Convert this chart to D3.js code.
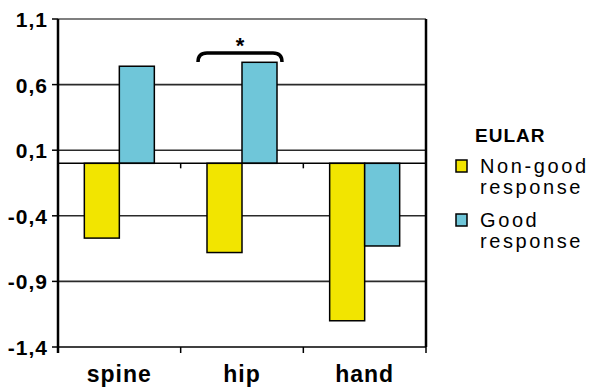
<!DOCTYPE html>
<html>
<head>
<meta charset="utf-8">
<script src="https://cdn.jsdelivr.net/npm/d3@7"></script>
<style>
  body { margin: 0; background: #fff; }
  text { font-family: "Liberation Sans", Arial, sans-serif; }
</style>
</head>
<body>
<div id="chart"></div>
<script>
// data
const categories = ["spine", "hip", "hand"];
const nonGood = [-0.57, -0.68, -1.2];
const good = [0.74, 0.77, -0.63];
const yTicks = [1.1, 0.6, 0.1, -0.4, -0.9, -1.4];
const seriesNames = ["Non-good\nresponse", "Good\nresponse"];
const colors = ["#f2e500", "#6fc6d9"];

const width = 600, height = 388;
const plot = { left: 58, right: 426, top: 19, bottom: 347 };

const svg = d3.select("#chart").append("svg")
  .attr("width", width)
  .attr("height", height);

const x = d3.scaleBand().domain(categories).range([plot.left, plot.right]);
const y = d3.scaleLinear().domain([-1.4, 1.1]).range([plot.bottom, plot.top]);
const barW = 35;

// grid lines
svg.selectAll(".grid")
  .data(yTicks.filter(d => d > -1.4 && d < 1.1))
  .enter().append("line")
  .attr("x1", plot.left).attr("x2", plot.right)
  .attr("y1", d => y(d)).attr("y2", d => y(d))
  .attr("stroke", "#2a2a2a")
  .attr("stroke-width", 1.6);

// top line
svg.append("line")
  .attr("x1", plot.left).attr("x2", plot.right)
  .attr("y1", y(1.1)).attr("y2", y(1.1))
  .attr("stroke", "#000").attr("stroke-width", 1.2);

// bars
const rows = categories.map((c, i) => ({ c, vals: [nonGood[i], good[i]] }));
rows.forEach(r => {
  r.vals.forEach((v, j) => {
    const cx = x(r.c) + x.bandwidth() / 2;
    svg.append("rect")
      .attr("x", cx - barW + j * barW)
      .attr("y", y(Math.max(0, v)))
      .attr("width", barW)
      .attr("height", Math.abs(y(v) - y(0)))
      .attr("fill", colors[j])
      .attr("stroke", "#000")
      .attr("stroke-width", 1.5);
  });
});

// zero line with ticks
svg.append("line")
  .attr("x1", plot.left).attr("x2", plot.right)
  .attr("y1", y(0)).attr("y2", y(0))
  .attr("stroke", "#000").attr("stroke-width", 1.5);
const bounds = [plot.left, ...categories.map(c => x(c) + x.bandwidth())];
svg.selectAll(".ztick")
  .data(bounds.slice(1, -1))
  .enter().append("line")
  .attr("x1", d => d).attr("x2", d => d)
  .attr("y1", y(0)).attr("y2", y(0) + 5)
  .attr("stroke", "#000").attr("stroke-width", 1.5);

// bottom axis
svg.append("line")
  .attr("x1", plot.left).attr("x2", plot.right)
  .attr("y1", plot.bottom).attr("y2", plot.bottom)
  .attr("stroke", "#000").attr("stroke-width", 1.5);
svg.selectAll(".btick")
  .data(bounds)
  .enter().append("line")
  .attr("x1", d => d).attr("x2", d => d)
  .attr("y1", plot.bottom).attr("y2", plot.bottom + 6)
  .attr("stroke", "#000").attr("stroke-width", 1.5);

svg.selectAll(".xlab")
  .data(categories)
  .enter().append("text")
  .attr("x", d => x(d) + x.bandwidth() / 2)
  .attr("y", 382)
  .attr("text-anchor", "middle")
  .attr("font-size", 23)
  .attr("font-weight", "bold")
  .attr("letter-spacing", 1)
  .text(d => d);

// left axis
svg.append("line")
  .attr("x1", plot.left).attr("x2", plot.left)
  .attr("y1", plot.top).attr("y2", plot.bottom + 6)
  .attr("stroke", "#000").attr("stroke-width", 2.5);
svg.selectAll(".ytick")
  .data(yTicks)
  .enter().append("line")
  .attr("x1", plot.left - 6).attr("x2", plot.left)
  .attr("y1", d => y(d)).attr("y2", d => y(d))
  .attr("stroke", "#000").attr("stroke-width", 1.5);
svg.selectAll(".ylab")
  .data(yTicks)
  .enter().append("text")
  .attr("x", 48)
  .attr("y", d => y(d) + 8)
  .attr("text-anchor", "end")
  .attr("font-size", 21)
  .attr("font-weight", "bold")
  .attr("letter-spacing", 1)
  .text(d => d3.format(".1f")(d).replace(".", ",").replace("−", "-"));

// right border
svg.append("line")
  .attr("x1", plot.right).attr("x2", plot.right)
  .attr("y1", plot.top).attr("y2", plot.bottom)
  .attr("stroke", "#000").attr("stroke-width", 2.5);

// significance bracket
const hc = x("hip") + x.bandwidth() / 2 - 2;
const bx0 = hc - 42, bx1 = hc + 42, by = 53;
svg.append("path")
  .attr("d", `M${bx0},${by + 9} Q${bx0},${by} ${bx0 + 9},${by} L${bx1 - 9},${by} Q${bx1},${by} ${bx1},${by + 9}`)
  .attr("fill", "none")
  .attr("stroke", "#000")
  .attr("stroke-width", 3.5);
svg.append("text")
  .attr("x", hc)
  .attr("y", 53)
  .attr("text-anchor", "middle")
  .attr("font-size", 22)
  .attr("font-weight", "bold")
  .text("*");

// legend
svg.append("text")
  .attr("x", 475).attr("y", 142)
  .attr("font-size", 19)
  .attr("font-weight", "bold")
  .attr("letter-spacing", 1)
  .text("EULAR");
const legY = [173, 227];
seriesNames.forEach((name, i) => {
  svg.append("rect")
    .attr("x", 456).attr("y", legY[i] - 13)
    .attr("width", 11).attr("height", 12)
    .attr("fill", colors[i])
    .attr("stroke", "#000").attr("stroke-width", 1.5);
  name.split("\n").forEach((ln, k) => {
    svg.append("text")
      .attr("x", 480).attr("y", legY[i] + k * 21)
      .attr("font-size", 20)
      .attr("letter-spacing", 2.6)
      .text(ln);
  });
});
</script>
</body>
</html>
